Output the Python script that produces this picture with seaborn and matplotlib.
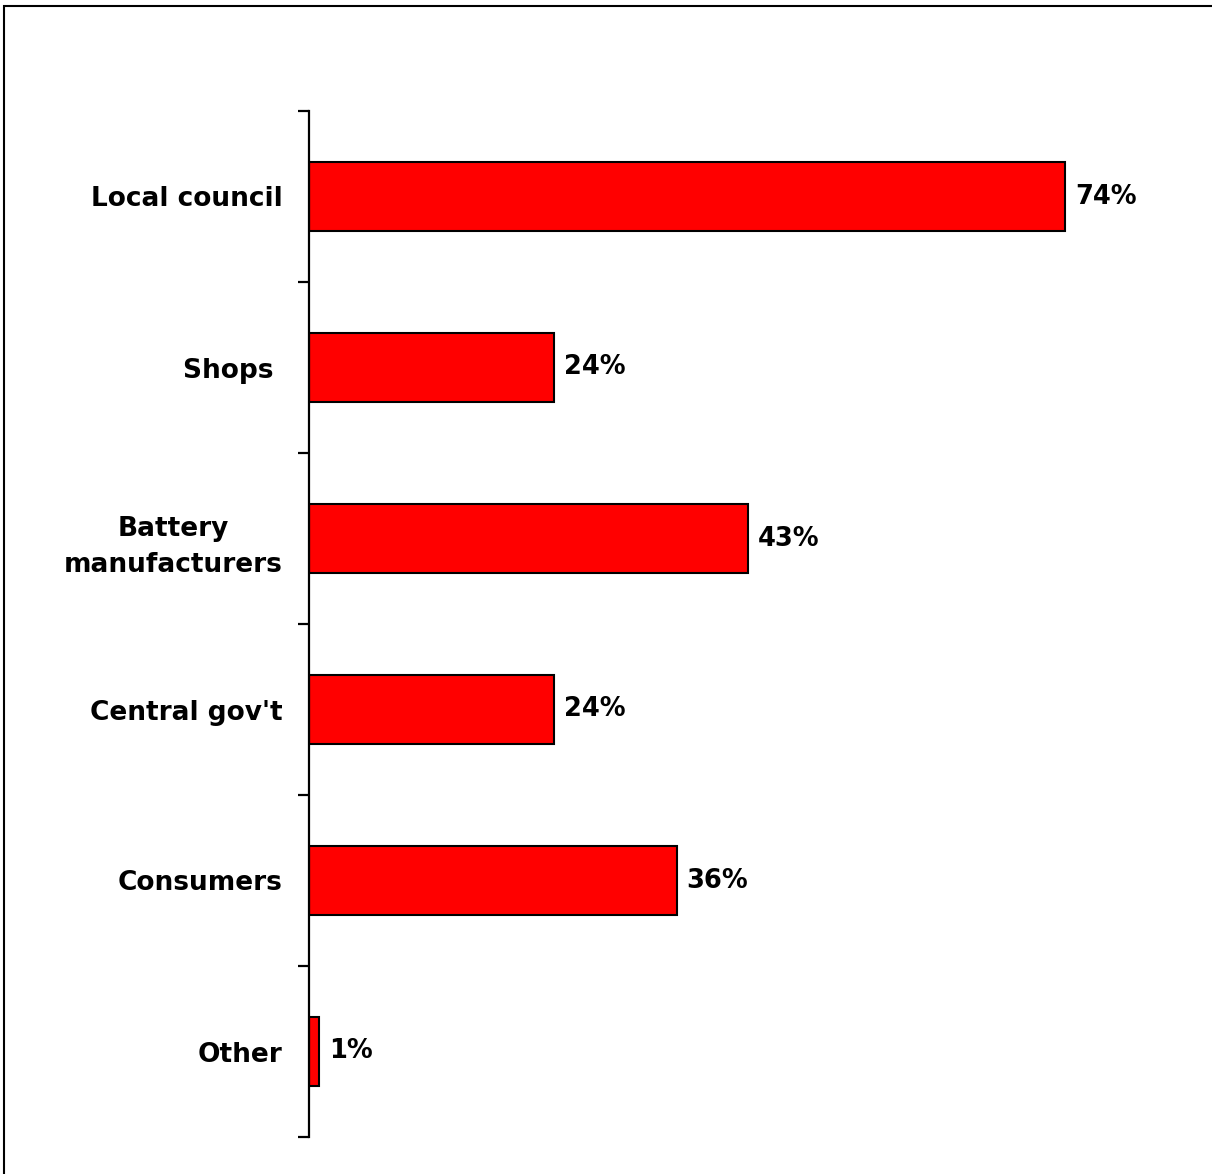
import matplotlib
matplotlib.use("Agg")
import matplotlib.pyplot as plt
from matplotlib.patches import Rectangle
import seaborn as sns
import pandas as pd

# Who should be responsible for battery recycling (% of respondents)
categories = ["Local council", "Shops ", "Battery\nmanufacturers",
              "Central gov't", "Consumers", "Other"]
percentages = [74, 24, 43, 24, 36, 1]
value_labels = ["74%", "24%", "43%", "24%", "36%", "1%"]

df = pd.DataFrame({"category": categories, "pct": percentages})

sns.set_theme(style="white")
plt.rcParams["font.family"] = ["DejaVu Sans"]

W, H = 1212, 1174
fig = plt.figure(figsize=(W / 100, H / 100), dpi=100)
fig.patch.set_facecolor("white")

# axes placed so the category axis sits just right of the labels
left, right_px = 309, 309 + 86 * 10.22
top_px, bot_px = 111, 1137
ax = fig.add_axes([left / W, (H - bot_px) / H,
                   (right_px - left) / W, (bot_px - top_px) / H])

sns.barplot(data=df, y="category", x="pct", orient="h", ax=ax,
            color="#ff0000", saturation=1, width=0.4,
            edgecolor="black", linewidth=1.5)

ax.set_xlim(0, 86)
ax.set_ylim(len(categories) - 0.5, -0.5)
ax.set_xlabel("")
ax.set_ylabel("")
ax.set_xticks([])

for side in ["top", "right", "bottom"]:
    ax.spines[side].set_visible(False)
ax.spines["left"].set_color("black")
ax.spines["left"].set_linewidth(1.6)

# tick marks between categories, labels centred on bars without marks
ax.set_yticks(range(len(categories)))
ax.set_yticklabels(categories, fontsize=19, fontweight="bold", color="black")
ax.set_yticks([i - 0.5 for i in range(len(categories) + 1)], minor=True)
ax.tick_params(axis="y", which="major", length=0, pad=19)
ax.tick_params(axis="y", which="minor", length=8, width=1.6,
               color="black", left=True)
for lbl in ax.get_yticklabels():
    lbl.set_multialignment("center")
    lbl.set_linespacing(1.5)

ax.bar_label(ax.containers[0], labels=value_labels, padding=7,
             fontsize=18.5, fontweight="bold", color="black")

# outer frame
fig.patches.append(Rectangle((4 / W, -0.05), 1.2, 1 - 6 / H + 0.05,
                             transform=fig.transFigure, fill=False,
                             edgecolor="black", linewidth=1.5))

fig.savefig("out.png", dpi=100, facecolor="white")
